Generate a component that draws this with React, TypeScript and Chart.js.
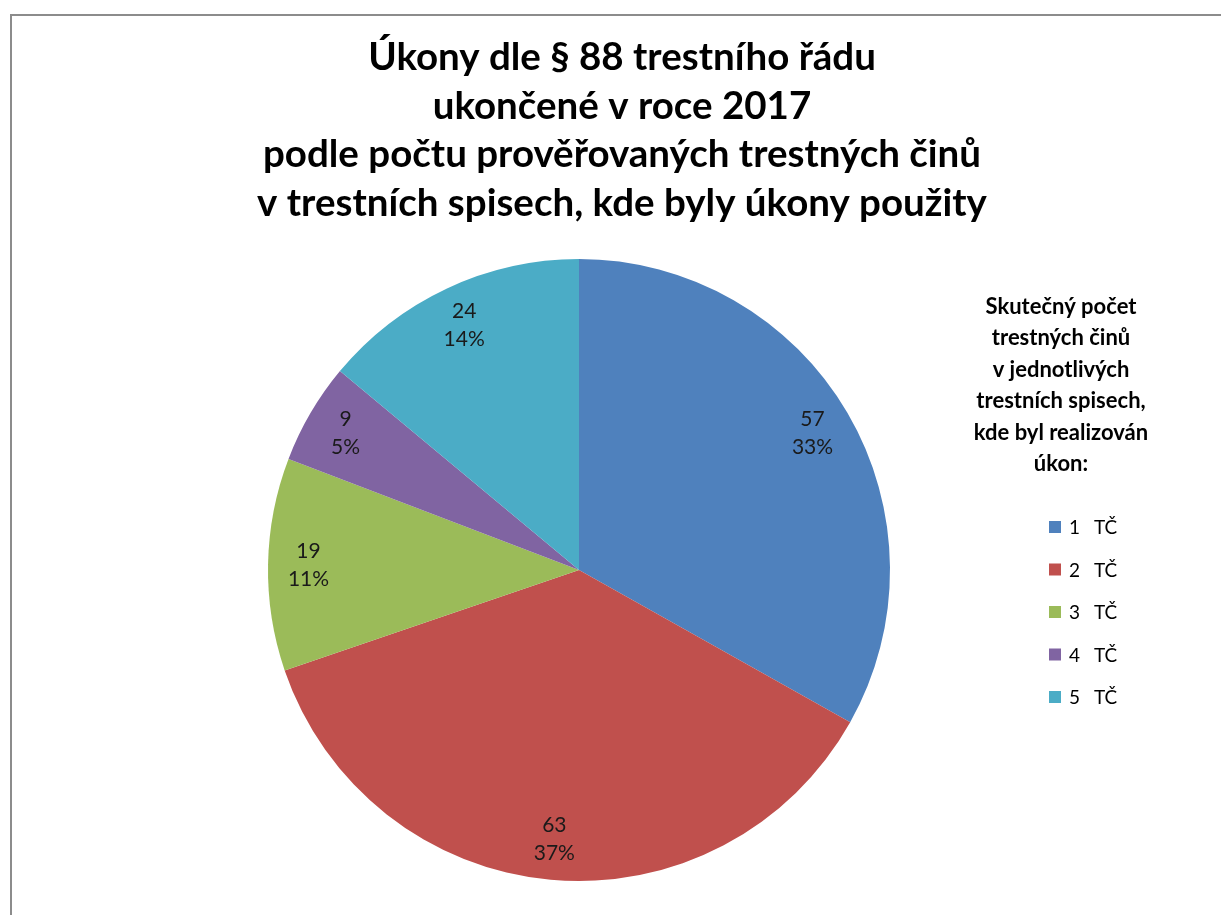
import React, { useEffect, useRef } from "react";
import { Chart, registerables } from "chart.js";

Chart.register(...registerables);

const titleLines = [
  "Úkony dle § 88 trestního řádu",
  "ukončené v roce 2017",
  "podle počtu prověřovaných trestných činů",
  "v trestních spisech, kde byly úkony použity",
];
const legendTitleLines = [
  "Skutečný počet",
  "trestných činů",
  "v jednotlivých",
  "trestních spisech,",
  "kde byl realizován",
  "úkon:",
];
const categories = ["1   TČ", "2   TČ", "3   TČ", "4   TČ", "5   TČ"];
const values = [57, 63, 19, 9, 24];
const colors = ["#4F81BD", "#C0504D", "#9BBB59", "#8064A2", "#4BACC6"];

const FONT = "Lato, 'Open Sans', sans-serif";

const titlePlugin = {
  id: "customTitle",
  afterDraw(chart: any) {
    const ctx = chart.ctx;
    ctx.save();
    ctx.fillStyle = "#000000";
    ctx.font = `bold 38.5px ${FONT}`;
    ctx.textAlign = "center";
    ctx.textBaseline = "alphabetic";
    titleLines.forEach((t, i) => {
      ctx.fillText(t, 622, 70 + i * 48.7);
    });
    ctx.restore();
  },
};

const sliceLabelPlugin = {
  id: "sliceLabels",
  afterDatasetsDraw(chart: any) {
    const ctx = chart.ctx;
    const meta = chart.getDatasetMeta(0);
    const data = chart.data.datasets[0].data as number[];
    const total = data.reduce((a, b) => a + b, 0);
    ctx.save();
    ctx.fillStyle = "#1a1a1a";
    ctx.font = `21px ${FONT}`;
    ctx.textAlign = "center";
    ctx.textBaseline = "middle";
    meta.data.forEach((arc: any, i: number) => {
      const p = arc.getProps(["x", "y", "startAngle", "endAngle", "outerRadius"], true);
      const mid = (p.startAngle + p.endAngle) / 2;
      const r = p.outerRadius * 0.87;
      const x = p.x + Math.cos(mid) * r;
      const y = p.y + Math.sin(mid) * r;
      const pct = Math.round((data[i] / total) * 100) + "%";
      ctx.fillText(String(data[i]), x, y - 14);
      ctx.fillText(pct, x, y + 14);
    });
    ctx.restore();
  },
};

const legendPlugin = {
  id: "customLegend",
  afterDraw(chart: any) {
    const ctx = chart.ctx;
    ctx.save();
    ctx.fillStyle = "#000000";
    ctx.font = `bold 22px ${FONT}`;
    ctx.textAlign = "center";
    ctx.textBaseline = "middle";
    legendTitleLines.forEach((t, i) => {
      ctx.fillText(t, 1061, 307 + i * 31.4);
    });
    const labels = chart.data.labels as string[];
    const bg = chart.data.datasets[0].backgroundColor as string[];
    ctx.font = `19px ${FONT}`;
    ctx.textAlign = "left";
    labels.forEach((lab, i) => {
      const y = 527 + i * 42.5;
      ctx.fillStyle = bg[i];
      ctx.fillRect(1049, y - 6, 12, 12);
      ctx.fillStyle = "#000000";
      const parts = lab.split("   ");
      ctx.fillText(parts[0], 1069, y + 1);
      ctx.fillText(parts[1], 1094, y + 1);
    });
    ctx.restore();
  },
};

export default function App() {
  const ref = useRef<HTMLCanvasElement | null>(null);
  useEffect(() => {
    if (!ref.current) return;
    const chart = new Chart(ref.current, {
      type: "pie",
      data: {
        labels: categories,
        datasets: [
          {
            data: values,
            backgroundColor: colors,
            borderWidth: 0,
          },
        ],
      },
      options: {
        responsive: false,
        animation: false,
        devicePixelRatio: 1,
        rotation: 0,
        layout: { padding: { top: 259, bottom: 34, left: 268, right: 331 } },
        plugins: {
          legend: { display: false },
          title: { display: false },
          tooltip: { enabled: false },
        },
      },
      plugins: [titlePlugin, sliceLabelPlugin, legendPlugin],
    });
    return () => chart.destroy();
  }, []);
  return (
    <div
      style={{
        position: "fixed",
        left: 0,
        top: 0,
        width: 1221,
        height: 915,
        overflow: "hidden",
        background: "#ffffff",
      }}
    >
      <div
        style={{
          position: "absolute",
          left: 10,
          top: 14,
          width: 1300,
          height: 1000,
          border: "2px solid #8c8c8c",
          boxSizing: "border-box",
        }}
      />
      <canvas
        ref={ref}
        width={1221}
        height={915}
        style={{ position: "absolute", left: 0, top: 0, width: 1221, height: 915 }}
      />
    </div>
  );
}
